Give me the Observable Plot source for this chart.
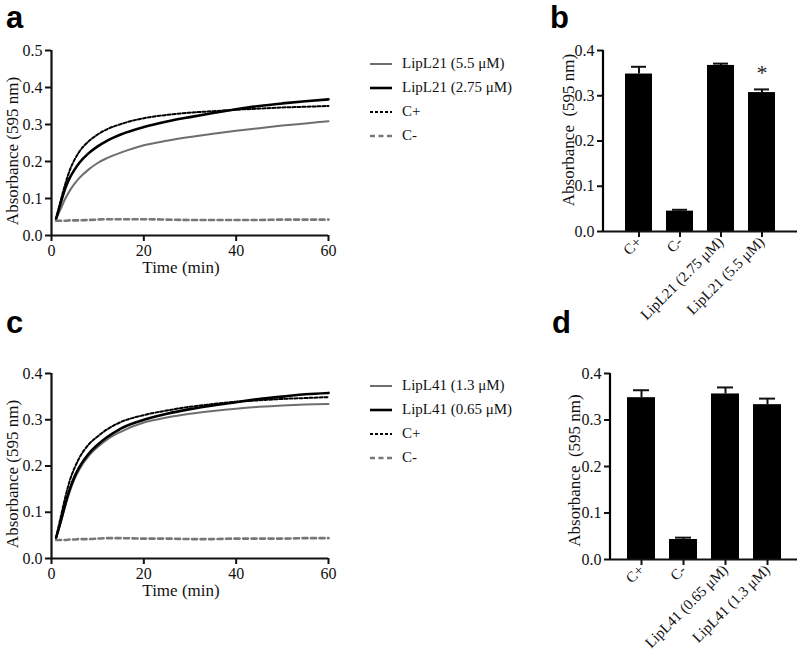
<!DOCTYPE html>
<html>
<head>
<meta charset="utf-8">
<script src="https://cdn.jsdelivr.net/npm/d3@7"></script>
<script src="https://cdn.jsdelivr.net/npm/@observablehq/plot@0.6"></script>
<style>
  html, body { margin: 0; padding: 0; background: #fff; }
  #root { position: relative; width: 800px; height: 661px; background: #fff; overflow: hidden; }
  .panel { position: absolute; }
  .letter { position: absolute; font-family: "Liberation Sans", Arial, sans-serif; font-weight: bold; font-size: 31px; line-height: 1; color: #000; }
  .legend { position: absolute; font-family: "Liberation Serif", "Times New Roman", serif; font-size: 15px; color: #111; }
  .legend .row { position: absolute; left: 0; height: 20px; white-space: nowrap; }
  .legend svg { position: absolute; left: 0; top: 0; }
  .legend span { position: absolute; left: 32px; top: 1px; }
</style>
</head>
<body>
<div id="root"></div>
<script>
// ---------- DATA ----------
const times = [1, 2, 3, 4, 5, 6, 8, 10, 12, 15, 20, 25, 30, 35, 40, 45, 50, 55, 60];

// Panel a (LipL21)
const aSeriesNames = ["LipL21 (5.5 μM)", "LipL21 (2.75 μM)", "C+", "C-"];
const aLipL21_55  = [0.045,0.072,0.100,0.122,0.140,0.155,0.178,0.196,0.209,0.224,0.244,0.256,0.266,0.275,0.283,0.290,0.297,0.303,0.309];
const aLipL21_275 = [0.045,0.088,0.128,0.157,0.178,0.196,0.222,0.241,0.256,0.273,0.293,0.308,0.320,0.331,0.341,0.350,0.357,0.363,0.368];
const aCpos       = [0.045,0.095,0.140,0.178,0.205,0.226,0.254,0.273,0.287,0.301,0.317,0.326,0.332,0.336,0.340,0.343,0.346,0.348,0.350];
const aCneg       = [0.040,0.040,0.040,0.041,0.041,0.041,0.042,0.043,0.044,0.044,0.044,0.043,0.042,0.042,0.042,0.042,0.043,0.043,0.043];

// Panel c (LipL41)
const cSeriesNames = ["LipL41 (1.3 μM)", "LipL41 (0.65 μM)", "C+", "C-"];
const cLipL41_13  = [0.045,0.078,0.114,0.146,0.172,0.192,0.221,0.241,0.257,0.274,0.294,0.305,0.313,0.319,0.324,0.328,0.331,0.333,0.334];
const cLipL41_065 = [0.045,0.080,0.118,0.151,0.177,0.197,0.226,0.246,0.262,0.281,0.300,0.313,0.323,0.331,0.338,0.345,0.350,0.355,0.358];
const cCpos       = [0.045,0.090,0.133,0.170,0.196,0.217,0.246,0.264,0.279,0.295,0.310,0.320,0.328,0.334,0.339,0.342,0.345,0.347,0.349];
const cCneg       = [0.040,0.040,0.040,0.041,0.041,0.042,0.042,0.043,0.044,0.044,0.043,0.043,0.042,0.042,0.043,0.043,0.043,0.044,0.044];

// Panel b (bars)
const bCategories = ["C+", "C-", "LipL21 (2.75 μM)", "LipL21 (5.5 μM)"];
const bMeans  = [0.348, 0.045, 0.367, 0.307];
const bErrors = [0.016, 0.003, 0.004, 0.007];
const bSignificant = [false, false, false, true];

// Panel d (bars)
const dCategories = ["C+", "C-", "LipL41 (0.65 μM)", "LipL41 (1.3 μM)"];
const dMeans  = [0.348, 0.043, 0.356, 0.333];
const dErrors = [0.016, 0.004, 0.014, 0.013];

const yTicksA = [0, 0.1, 0.2, 0.3, 0.4, 0.5];
const yTicksC = [0, 0.1, 0.2, 0.3, 0.4];
const yTicksBar = [0, 0.1, 0.2, 0.3, 0.4];
const xTicks = [0, 20, 40, 60];

// ---------- STYLES ----------
const seriesStyles = [
  {stroke: "#6e6e6e", strokeWidth: 2, dash: null},
  {stroke: "#000000", strokeWidth: 2.6, dash: null},
  {stroke: "#000000", strokeWidth: 2, dash: "3,2"},
  {stroke: "#777777", strokeWidth: 2.6, dash: "5,3.5"}
];
const font = "'Liberation Serif', 'Times New Roman', serif";
const FS = 16;   // tick labels
const TS = 17;   // axis titles

const root = document.getElementById("root");

function place(node, left, top) {
  node.classList.add("panel");
  node.style.left = left + "px";
  node.style.top = top + "px";
  root.appendChild(node);
}

function letter(ch, left, top) {
  const d = document.createElement("div");
  d.className = "letter";
  d.textContent = ch;
  d.style.left = left + "px";
  d.style.top = top + "px";
  root.appendChild(d);
}

// left axis line along the frame's left edge
function leftAxisLine(index, scales, values, dims) {
  return d3.create("svg:line")
    .attr("x1", dims.marginLeft).attr("x2", dims.marginLeft)
    .attr("y1", dims.marginTop).attr("y2", dims.height - dims.marginBottom)
    .attr("stroke", "#000").attr("stroke-width", 2.2)
    .node();
}

function lineChart(seriesValues, yDomain, yTicks, opt) {
  const marks = [
    Plot.axisX({ticks: xTicks, tickSize: 6, tickPadding: 3, strokeWidth: 2, label: null, fontSize: FS}),
    Plot.axisY({ticks: yTicks, tickSize: 6, tickPadding: 3, strokeWidth: 2, label: null, fontSize: FS, tickFormat: d3.format(".1f")}),
  ];
  seriesValues.forEach((vals, i) => {
    const data = times.map((t, k) => ({t, v: vals[k]}));
    const st = seriesStyles[i];
    marks.push(Plot.line(data, {x: "t", y: "v", curve: "monotone-x", stroke: st.stroke, strokeWidth: st.strokeWidth, strokeDasharray: st.dash}));
  });
  marks.push(Plot.ruleX([0], {strokeWidth: 2.2}));
  marks.push(Plot.ruleY([0], {strokeWidth: 2.2}));
  marks.push(Plot.text(["Absorbance (595 nm)"], {frameAnchor: "left", textAnchor: "middle", rotate: -90, dx: -39, dy: opt.ylabDy, fontSize: TS, fill: "#111"}));
  marks.push(Plot.text(["Time (min)"], {frameAnchor: "bottom", textAnchor: "middle", dy: 37, dx: -9, fontSize: TS, fill: "#111"}));
  return Plot.plot({
    width: opt.width, height: opt.height,
    marginLeft: opt.ml, marginRight: opt.mr, marginTop: opt.mt, marginBottom: opt.mb,
    x: {domain: [0, 60]},
    y: {domain: yDomain},
    style: {fontFamily: font, fontSize: FS + "px", color: "#111", background: "transparent", overflow: "visible"},
    marks
  });
}

function legend(names, left, top) {
  const box = document.createElement("div");
  box.className = "legend";
  box.style.left = left + "px";
  box.style.top = top + "px";
  names.forEach((n, i) => {
    const st = seriesStyles[i];
    const row = document.createElement("div");
    row.className = "row";
    row.style.top = (i * 24) + "px";
    row.innerHTML = `<svg width="24" height="20"><line x1="0" x2="22" y1="10" y2="10" stroke="${st.stroke}" stroke-width="${st.strokeWidth}" ${st.dash ? `stroke-dasharray="${st.dash}"` : ""}/></svg><span>${n}</span>`;
    box.appendChild(row);
  });
  root.appendChild(box);
}

function barChart(cats, means, errors, sig, opt) {
  const data = cats.map((c, i) => ({c, m: means[i], hi: means[i] + errors[i], sig: sig ? sig[i] : false}));
  return Plot.plot({
    width: opt.width, height: opt.height,
    marginLeft: opt.ml, marginRight: opt.mr, marginTop: opt.mt, marginBottom: opt.mb,
    x: {domain: cats, paddingInner: opt.pi, paddingOuter: opt.po},
    y: {domain: [0, 0.4]},
    style: {fontFamily: font, fontSize: FS + "px", color: "#111", background: "transparent", overflow: "visible"},
    marks: [
      Plot.axisX({tickSize: 6, tickPadding: 2, strokeWidth: 2, tickRotate: -45, label: null, fontSize: 15}),
      Plot.axisY({ticks: yTicksBar, tickSize: 6, tickPadding: 3, strokeWidth: 2, label: null, fontSize: FS, tickFormat: d3.format(".1f")}),
      Plot.ruleX(data, {x: "c", y1: "m", y2: "hi", strokeWidth: 2}),
      Plot.tickY(data, {x: "c", y: "hi", strokeWidth: 2, insetLeft: 6, insetRight: 6}),
      Plot.barY(data, {x: "c", y: "m", fill: "#000"}),
      Plot.text(data.filter(d => d.sig), {x: "c", y: "hi", text: () => "*", dy: -16, fontSize: 22, fill: "#222"}),
      leftAxisLine,
      Plot.ruleY([0], {strokeWidth: 2.2}),
      Plot.text(["Absorbance\u00a0 (595 nm)"], {frameAnchor: "left", textAnchor: "middle", rotate: -90, dx: opt.ylabDx, dy: opt.ylabDy, fontSize: TS, fill: "#111"})
    ]
  });
}

// ---------- PANELS ----------
letter("a", 6, 2);
letter("b", 550, 2);
letter("c", 6, 307);
letter("d", 552, 307);

place(lineChart([aLipL21_55, aLipL21_275, aCpos, aCneg], [0, 0.5], yTicksA,
  {width: 345, height: 290, ml: 51, mr: 17, mt: 50, mb: 55, ylabDy: 8}), 0, 0);
legend(aSeriesNames, 370, 54);

place(lineChart([cLipL41_13, cLipL41_065, cCpos, cCneg], [0, 0.4], yTicksC,
  {width: 345, height: 290, ml: 51, mr: 17, mt: 53, mb: 52, ylabDy: 8}), 0, 320);
legend(cSeriesNames, 370, 376);

place(barChart(bCategories, bMeans, bErrors, bSignificant,
  {width: 280, height: 320, ml: 83, mr: 3, mt: 50, mb: 89, pi: 0.34, po: 0.48, ylabDx: -35, ylabDy: -11}), 520, 0);

place(barChart(dCategories, dMeans, dErrors, null,
  {width: 280, height: 341, ml: 90, mr: 3, mt: 53, mb: 102, pi: 0.34, po: 0.35, ylabDx: -36, ylabDy: 4}), 520, 320);
</script>
</body>
</html>
